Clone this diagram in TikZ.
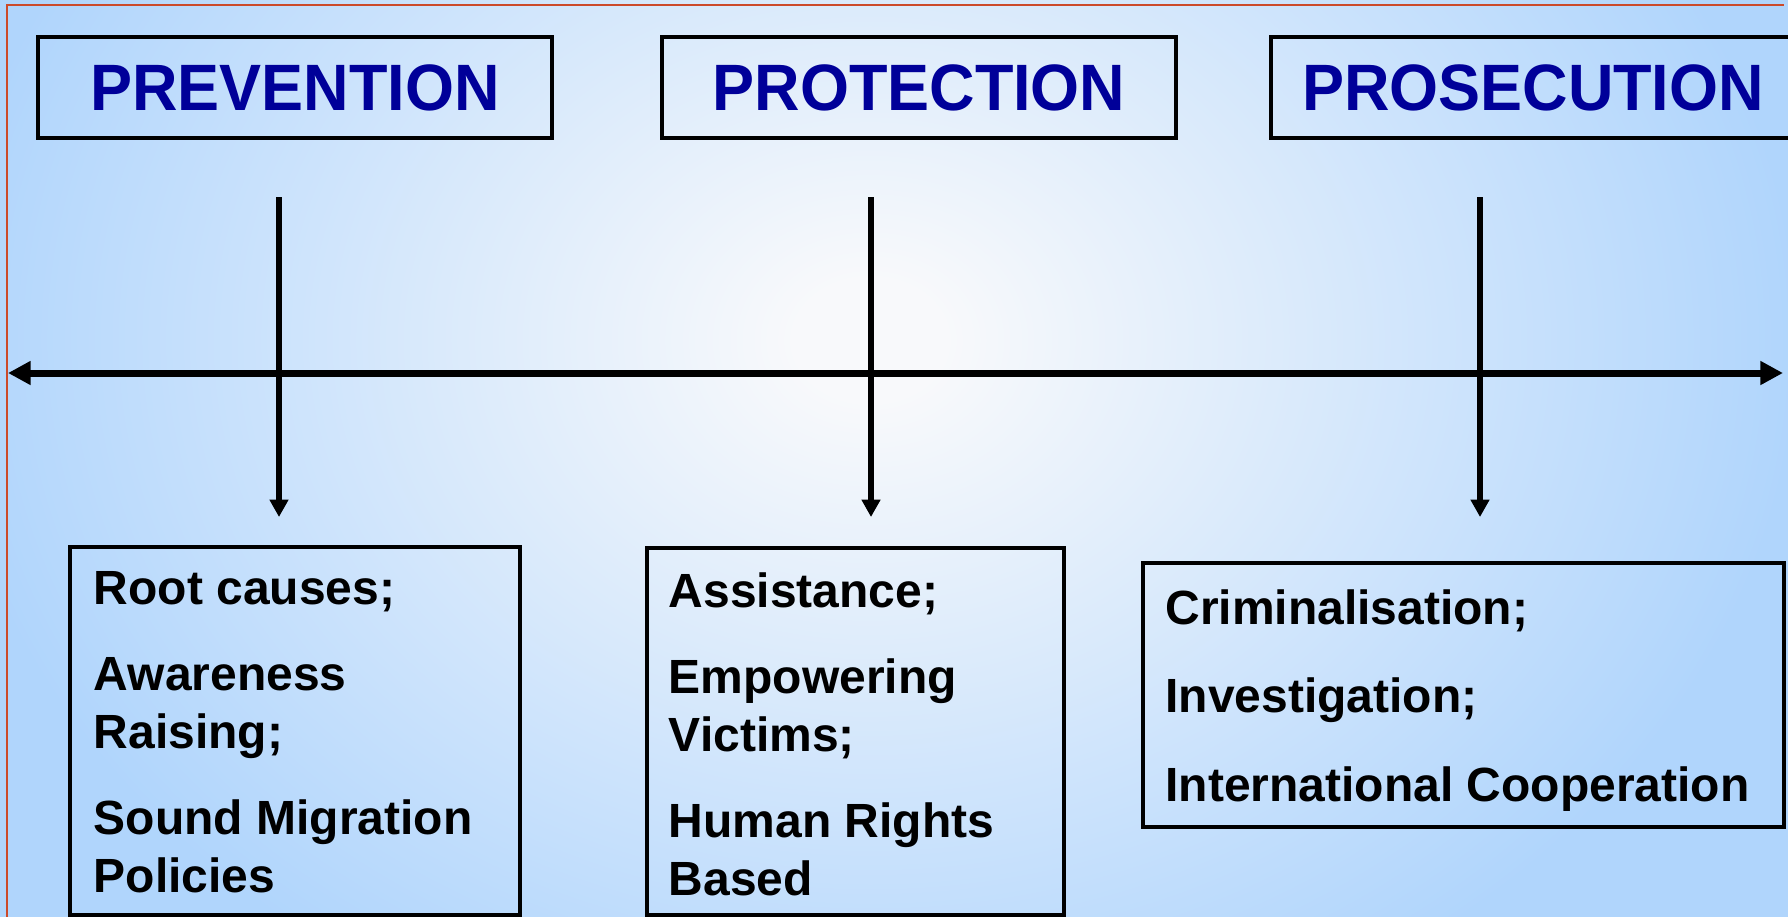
\documentclass[tikz,border=0pt]{standalone}
\usepackage{fontspec}
\setmainfont{Liberation Sans}
\newfontfamily\headfont{Liberation Sans}[FakeStretch=0.96]
\usepackage{xcolor}
\usetikzlibrary{arrows.meta}
\definecolor{headblue}{RGB}{0,0,153}
\definecolor{framered}{RGB}{204,74,42}
\definecolor{bgin}{RGB}{248,249,251}
\definecolor{bgout}{RGB}{176,213,252}
\pgfdeclareradialshading{slide}{\pgfpoint{0bp}{0bp}}{color(0bp)=(bgin); color(2bp)=(bgin); color(25bp)=(bgout); color(50bp)=(bgout)}
\tikzstyle{headbox}=[draw=black,line width=2.6pt,minimum width=385.5pt,minimum height=75.75pt,inner sep=0pt,text=headblue,font=\headfont\bfseries\fontsize{49.2}{59}\selectfont]
\tikzstyle{listbox}=[draw=black,line width=2.6pt,inner sep=0pt]
\tikzstyle{listtext}=[anchor=north west,inner sep=0pt,align=left,font=\bfseries\fontsize{36}{43.5}\selectfont]
\tikzstyle{axis}=[line width=5.25pt,{Triangle[length=17pt,width=17pt]}-{Triangle[length=17pt,width=17pt]}]
\tikzstyle{drop}=[line width=4.5pt,-{Triangle[length=13pt,width=13.5pt]}]

\begin{document}
\begin{tikzpicture}[x=0.75pt,y=-0.75pt]
            \useasboundingbox (0,0) rectangle (1788,917);
            \begin{scope}
                \clip (0,0) rectangle (1788,917);
                \shade[shading=slide] (-60,-410) rectangle (1800,1090);
            \end{scope}
            \draw[framered,line width=1.5pt] (7,917) -- (7,5) -- (1784,5);

            \node[headbox] (prevhead) at (295,87.5) {PREVENTION};
            \node[headbox] (prothead) at (919,87.5) {PROTECTION};
            \node[headbox,minimum width=393pt] (proshead) at (1533,87.5) {PROSECUTION};

            \coordinate (west) at (8,373);
            \coordinate (east) at (1783,373);
            \draw[axis] (west) -- (east);

            \coordinate (prevtop) at (279,197);
            \coordinate (prevend) at (279,517);
            \coordinate (prottop) at (871,197);
            \coordinate (protend) at (871,517);
            \coordinate (prostop) at (1480,197);
            \coordinate (prosend) at (1480,517);
            \draw[drop] (prevtop) -- (prevend);
            \draw[drop] (prottop) -- (protend);
            \draw[drop] (prostop) -- (prosend);

            \node[listbox,minimum width=337.5pt,minimum height=276pt] (prevlist) at (295,731) {};
            \node[listbox,minimum width=312.75pt,minimum height=275.25pt] (protlist) at (855.5,731.5) {};
            \node[listbox,minimum width=480.75pt,minimum height=198pt] (proslist) at (1463.5,695) {};

            \node[listtext] (prevtext) at ([xshift=19pt,yshift=-19.5pt]prevlist.north west)
                {Root causes;\\[21pt]Awareness\\Raising;\\[21pt]Sound Migration\\Policies};
            \node[listtext] (prottext) at ([xshift=17.5pt,yshift=-20pt]protlist.north west)
                {Assistance;\\[21pt]Empowering\\Victims;\\[21pt]Human Rights\\Based};
            \node[listtext] (prostext) at ([xshift=18pt,yshift=-21pt]proslist.north west)
                {Criminalisation;\\[23pt]Investigation;\\[23pt]International Cooperation};
        \end{tikzpicture}
\end{document}
